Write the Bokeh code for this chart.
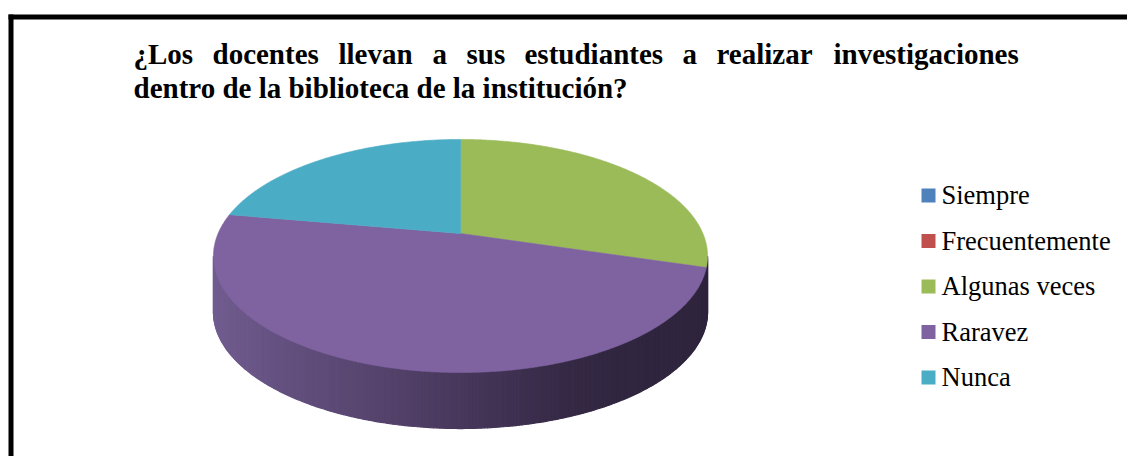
import numpy as np
from bokeh.plotting import figure
from bokeh.models import Range1d
from bokeh.core.properties import value
from bokeh.embed import file_html
from bokeh.resources import INLINE

# ---- data ----
categories = ["Siempre", "Frecuentemente", "Algunas veces", "Raravez", "Nunca"]
counts = [0, 0, 8, 13, 6]
colors = ["#4F81BD", "#C0504D", "#9BBB59", "#7F63A1", "#4BACC6"]
title_line1 = ["¿Los", "docentes", "llevan", "a", "sus", "estudiantes", "a", "realizar", "investigaciones"]
title_line2 = "dentro de la biblioteca de la institución?"

W, H = 1127, 456
p = figure(width=W, height=H, output_backend="svg", toolbar_location=None,
           x_range=Range1d(0, W), y_range=Range1d(H, 0), min_border=0)
p.axis.visible = False
p.grid.visible = False
p.outline_line_color = None
p.background_fill_color = "white"
p.border_fill_color = "white"

# ---- frame (left and top, the rest is cut off) ----
p.quad(left=[8], right=[13], top=[14], bottom=[H + 10], fill_color="black", line_color=None)
p.quad(left=[8], right=[W + 10], top=[14], bottom=[19], fill_color="black", line_color=None)

# ---- perspective pie geometry ----
cx, cy = 460.0, 233.0
A, B, k = 242.4, 112.2, 0.193
D = 56.0


def rim(theta):
    u = np.sin(theta)
    v = -np.cos(theta)
    w = 1.0 - k * v
    return cx + A * u / w, cy + B * v / w


# side (front arc) with horizontal gradient
th_r = np.arccos(-k)
th_l = 2 * np.pi - th_r
ths = np.linspace(th_r, th_l, 260)
sx, sy = rim(ths)
stops_x = [213, 300, 400, 480, 560, 620, 720]
stops_c = np.array([[113, 92, 143], [97, 78, 124], [82, 64, 104], [68, 53, 88],
                    [54, 42, 70], [49, 38, 64], [46, 36, 60]], dtype=float)
xs_l, ys_l, cols = [], [], []
for i in range(len(ths) - 1):
    x0, x1 = sx[i], sx[i + 1]
    y0, y1 = sy[i], sy[i + 1]
    xs_l.append([x0, x1, x1, x0])
    ys_l.append([y0, y1, y1 + D, y0 + D])
    xm = 0.5 * (x0 + x1)
    c = [int(round(np.interp(xm, stops_x, stops_c[:, j]))) for j in range(3)]
    cols.append("#%02x%02x%02x" % tuple(c))
p.patches(xs_l, ys_l, fill_color=cols, line_color=cols, line_width=1.2)

# top face slices
total = float(sum(counts))
start = 0.0
for cat, val, col in zip(categories, counts, colors):
    if val <= 0:
        continue
    ang = 2 * np.pi * val / total
    t = np.linspace(start, start + ang, max(int(ang / 0.01), 4))
    rx, ry = rim(t)
    px = np.concatenate([[cx], rx])
    py = np.concatenate([[cy], ry])
    p.patch(px, py, fill_color=col, line_color=col, line_width=0.6)
    start += ang

# ---- title (justified first line) ----
word_x = [133, 212, 338, 432, 466, 524, 682, 716, 833]
p.text(x=word_x, y=[53] * len(word_x), text=title_line1,
       text_font=value("Liberation Serif"), text_font_style="bold",
       text_font_size="29px", text_color="black", text_baseline="alphabetic")
p.text(x=[133], y=[87], text=[title_line2],
       text_font=value("Liberation Serif"), text_font_style="bold",
       text_font_size="29px", text_color="black", text_baseline="alphabetic")

# ---- legend ----
ly = np.array([195 + 45.5 * i for i in range(len(categories))])
p.quad(left=[921] * len(categories), right=[935] * len(categories),
       top=ly - 7, bottom=ly + 7, fill_color=colors, line_color=None)
p.text(x=[941] * len(categories), y=list(ly - 0.5), text=categories,
       text_font=value("Liberation Serif"), text_font_size="26.5px",
       text_color="black", text_baseline="alphabetic")

open("out.html", "w").write(file_html(p, INLINE))
